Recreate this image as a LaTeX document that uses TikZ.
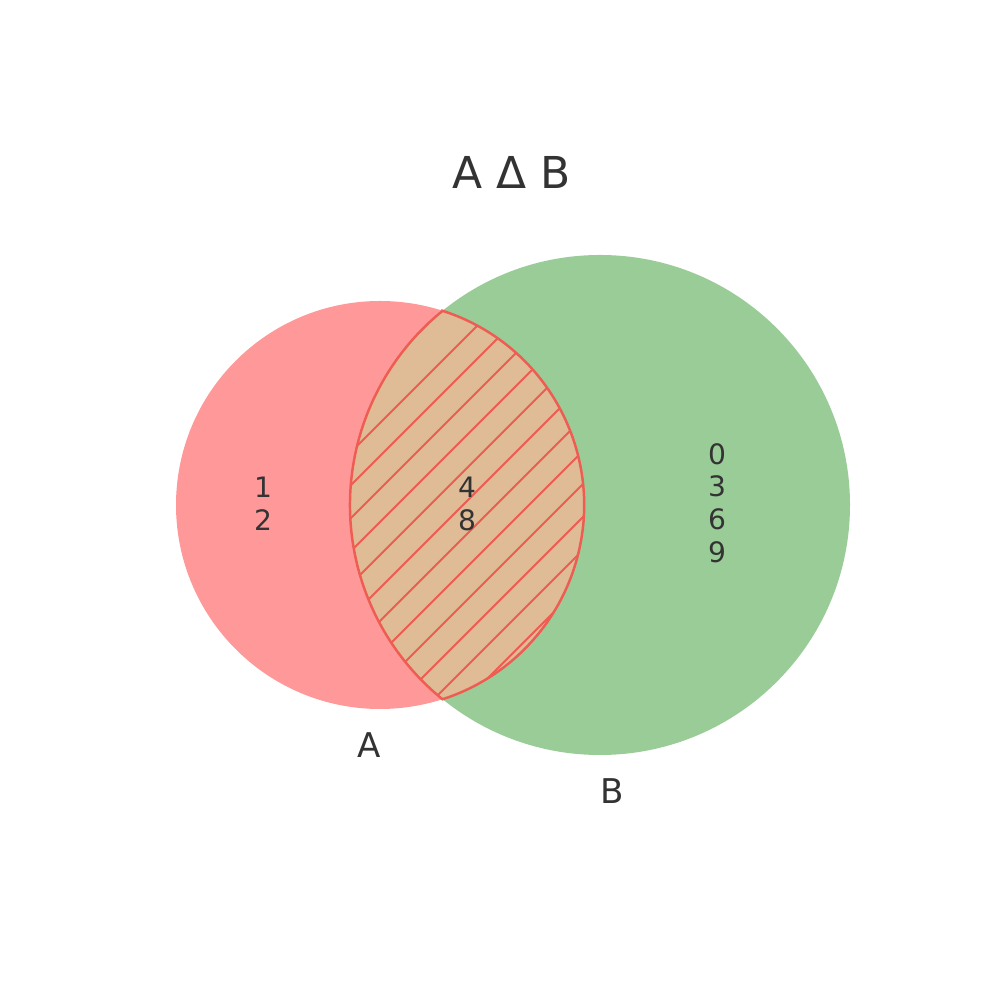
\documentclass[tikz,border=0pt]{standalone}
\usepackage{fontspec}
\setmainfont{DejaVu Sans}
\usepackage{tikz}
\usetikzlibrary{positioning, calc}
\usepackage{xcolor}
\definecolor{setred}{RGB}{255,153,153}
\definecolor{setgreen}{RGB}{154,204,152}
\definecolor{lenstan}{RGB}{223,187,150}
\definecolor{hatchred}{RGB}{238,92,82}
\definecolor{textgray}{RGB}{51,51,51}

\tikzset{
  setlabel/.style={text=textgray, inner sep=0pt, font=\fontsize{9.7}{11}\selectfont},
  elemlabel/.style={text=textgray, inner sep=0pt, align=center, font=\fontsize{8}{9.3}\selectfont},
  hatchline/.style={hatchred, line width=0.6pt}
}

\begin{document}
\begin{tikzpicture}[x=0.01cm, y=0.01cm]
  \useasboundingbox (0,0) rectangle (1000,1000);
  \fill[white] (0,0) rectangle (1000,1000);

  % Circles
  \coordinate (ca) at (380,495);
  \coordinate (cb) at (600,495);
  \fill[setgreen] (cb) circle (250);
  \fill[setred] (ca) circle (204);

  % Intersection A and B
  \coordinate (top) at (442.5,689.2);
  \begin{scope}
    \clip (ca) circle (204);
    \fill[lenstan] (cb) circle (250);
    \clip (cb) circle (250);
    \foreach \c in {-397,-364,...,200} {
      \draw[hatchline] (300,300+\c) -- (650,650+\c);
    }
  \end{scope}
  \draw[hatchred, line width=0.7pt] (top)
    arc[start angle=72.2, end angle=-72.2, radius=204]
    arc[start angle=230.96, end angle=129.04, radius=250] -- cycle;

  % Labels
  \node[text=textgray, inner sep=0pt, font=\fontsize{12.5}{14}\selectfont] (title) at (512,828) {A Δ B};
  \node[elemlabel] (onlya) at (263,496) {1\\2};
  \node[elemlabel] (both) at (467,496) {4\\8};
  \node[elemlabel] (onlyb) at (717,497) {0\\3\\6\\9};
  \node[setlabel] (labela) at (369,255) {A};
  \node[setlabel] (labelb) at (612,209) {B};
\end{tikzpicture}
\end{document}
